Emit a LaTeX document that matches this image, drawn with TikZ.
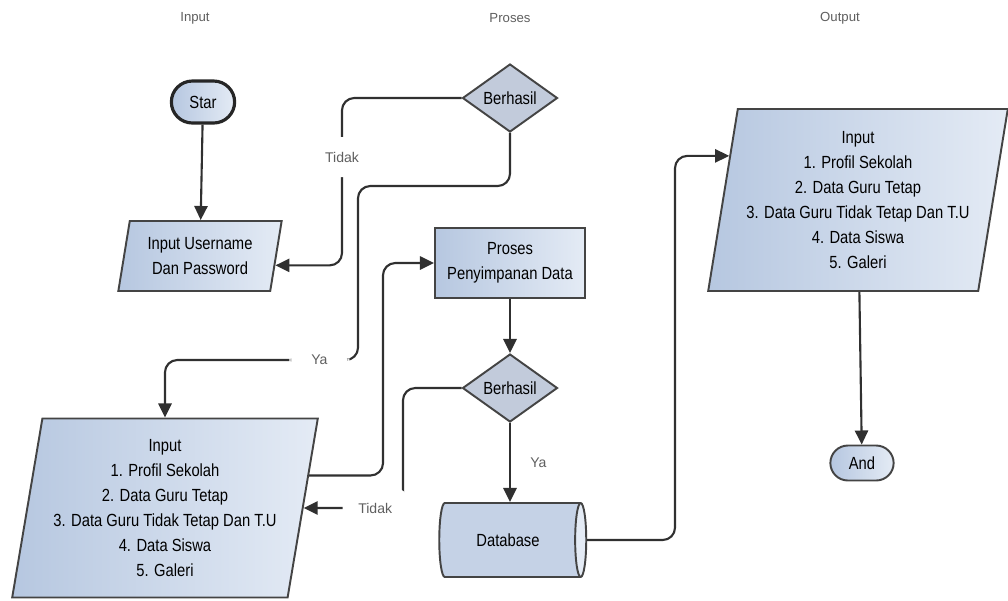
\documentclass[tikz,border=0pt]{standalone}
\usepackage{fontspec}
\setmainfont{Liberation Sans}[FakeStretch=0.84]
\newfontfamily\headfont{Liberation Sans}
\usetikzlibrary{shapes.geometric,shapes.misc,arrows.meta,calc}

\definecolor{boxdark}{RGB}{182,199,224}
\definecolor{boxlight}{RGB}{228,235,245}
\definecolor{decfill}{RGB}{194,203,219}
\definecolor{edgegray}{RGB}{68,68,68}
\definecolor{linegray}{RGB}{48,48,48}
\definecolor{labelgray}{RGB}{95,95,95}

\tikzset{
  box/.style={draw=edgegray,line width=1.1pt,left color=boxdark,right color=boxlight,
    align=center,font={\fontsize{10}{14.2}\selectfont}},
  datain/.style={box,trapezium,trapezium left angle=79,trapezium right angle=101,
    trapezium stretches=true},
  procbox/.style={box,rectangle,minimum width=3cm,minimum height=1.4cm},
  terminal/.style={box,rounded rectangle,line width=1.8pt,draw=black!85},
  decision/.style={diamond,draw=edgegray,line width=1.1pt,fill=decfill,
    minimum width=1.9cm,minimum height=1.36cm,inner sep=0pt,font={\fontsize{10}{12}\selectfont}},
  store/.style={draw=edgegray,line width=1.1pt,cylinder,shape border rotate=0,aspect=0.45,
    cylinder uses custom fill,cylinder body fill=boxdark!80!white,cylinder end fill=boxlight,
    minimum width=1.48cm,minimum height=2.94cm,font={\fontsize{10}{12}\selectfont}},
  flow/.style={draw=linegray,line width=1.2pt,rounded corners=7pt,
    -{Triangle[length=8pt,width=7.5pt]}},
  tag/.style={font={\headfont\fontsize{8}{9}\selectfont},text=labelgray,fill=white,inner sep=1pt},
  head/.style={font={\headfont\fontsize{7.5}{9}\selectfont},text=labelgray}
}

\begin{document}
\begin{tikzpicture}[x=0.02cm,y=-0.02cm]
\useasboundingbox[fill=white] (0,0) rectangle (1008,600);
\node[head] (hin) at (195,18) {Input};
\node[head] (hpro) at (510,18) {Proses};
\node[head] (hout) at (840,18) {Output};
%
\node[terminal,minimum width=1.5cm,minimum height=0.84cm] (start) at (203,102) {Star};
\node[datain,minimum width=3.28cm,minimum height=1.4cm] (user) at (200,256) {Input Username\\Dan Password};
\node[decision] (cek1) at (510,98) {Berhasil};
\node[procbox] (simpan) at (510,263) {Proses\\Penyimpanan Data};
\node[decision] (cek2) at (510,388) {Berhasil};
\node[store] (db) at (508,540) {Database};
\node[datain,minimum width=6.12cm,minimum height=3.58cm] (inb) at (165,508)
  {Input\\1. Profil Sekolah\\2. Data Guru Tetap\\3. Data Guru Tidak Tetap Dan T.U\\4. Data Siswa\\5. Galeri};
\node[datain,minimum width=6cm,minimum height=3.64cm] (outp) at (858,200)
  {Input\\1. Profil Sekolah\\2. Data Guru Tetap\\3. Data Guru Tidak Tetap Dan T.U\\4. Data Siswa\\5. Galeri};
\node[terminal,line width=1.1pt,draw=edgegray,minimum width=1.5cm,minimum height=0.7cm] (akhir) at (862,463) {And};
%
\coordinate (tdk1) at (342,157);
\coordinate (ya1) at (358,186);
\coordinate (ya2) at (358,360);
\coordinate (tdk2) at (403,450);
\coordinate (naik) at (383,370);
\coordinate (ke) at (675,350);
%
\draw[flow] (start) -- (user);
\draw[flow] (cek1.west) -| (tdk1) node[tag,minimum height=0.8cm]{Tidak}
  |- ($(user.top right corner)!0.63!(user.bottom right corner)$);
\draw[flow] (cek1.south) |- (ya1) -- (ya2)
  -| node[tag,pos=0.1,minimum width=1.2cm]{Ya} (inb.center |- inb.north);
\draw[flow] ($(inb.top right corner)!0.32!(inb.bottom right corner)$) -| (naik) |- (simpan.west);
\draw[flow] (simpan) -- (cek2);
\draw[flow] (cek2.west) -| (tdk2)
  |- node[tag,pos=0.64,minimum width=1.3cm,minimum height=0.8cm]{Tidak} (inb.east);
\draw[flow] (cek2.south) -- node[tag,right=10pt,fill=none]{Ya} (cek2.south |- db.north);
\draw[flow] (db.east) -| (ke) |- ($(outp.top left corner)!0.26!(outp.bottom left corner)$);
\draw[flow] (outp) -- (akhir);

\end{tikzpicture}
\end{document}
